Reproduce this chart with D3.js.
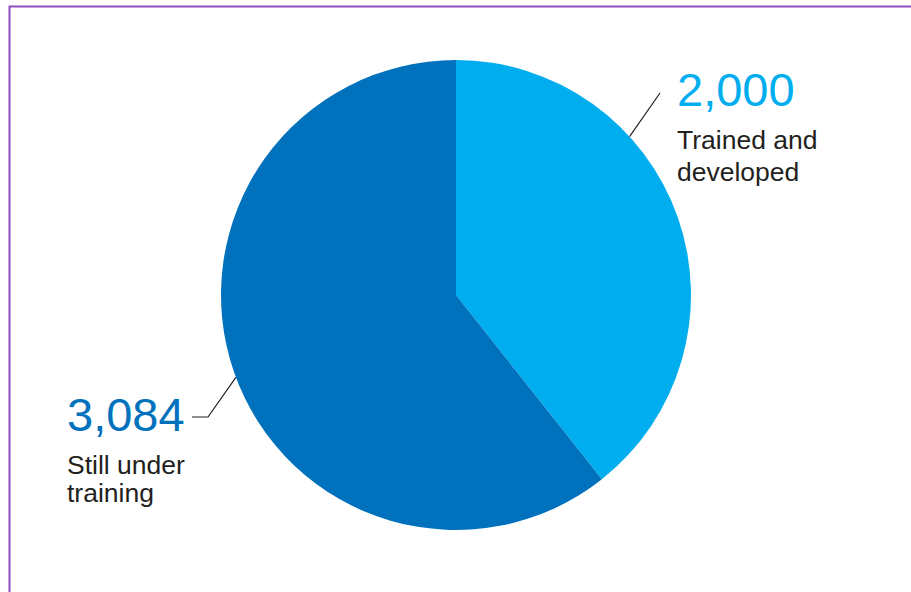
<!DOCTYPE html>
<html>
<head>
<meta charset="utf-8">
<script src="https://cdn.jsdelivr.net/npm/d3@7"></script>
<style>
  html, body { margin: 0; padding: 0; background: #fff; }
  svg { display: block; }
  text { font-family: "Liberation Sans", Arial, Helvetica, sans-serif; }
</style>
</head>
<body>
<script>
// Trainee status
const categories = ["Trained and developed", "Still under training"];
const values = [2000, 3084];
const valueLabels = ["2,000", "3,084"];
const labelLines = [["Trained and", "developed"], ["Still under", "training"]];

const W = 911, H = 592;
const cx = 456, cy = 295, R = 235;
const colors = ["#00AEEF", "#0071BC"];
const textColor = "#231F20";

const svg = d3.select("body").append("svg")
  .attr("width", W).attr("height", H);

// Frame: purple rule along the top and left edge
svg.append("path")
  .attr("d", `M9.5,${H} V6.5 H${W}`)
  .attr("fill", "none")
  .attr("stroke", "#8E4FC4")
  .attr("stroke-width", 2);

const pie = d3.pie().sort(null).value(d => d);
const arcs = pie(values);
const arc = d3.arc().innerRadius(0).outerRadius(R);

const g = svg.append("g").attr("transform", `translate(${cx},${cy})`);
g.selectAll("path.slice")
  .data(arcs)
  .join("path")
  .attr("class", "slice")
  .attr("d", arc)
  .attr("fill", (d, i) => colors[i]);

// Label layout: leader angle on the rim, leader path, text anchor
const layout = [
  { angle: 47.6, elbow: null, end: [660, 93], tx: 677, numY: 105.5, lineY: [148.5, 180.5] },
  { angle: 249.5, elbow: [208, 417], end: [192, 417], tx: 67, numY: 430.5, lineY: [473.5, 502] }
];

function rimPoint(deg) {
  const a = deg * Math.PI / 180;
  return [cx + R * Math.sin(a), cy - R * Math.cos(a)];
}

layout.forEach((L, i) => {
  const p0 = rimPoint(L.angle);
  const pts = [p0];
  if (L.elbow) pts.push(L.elbow);
  pts.push(L.end);
  svg.append("path")
    .attr("d", d3.line()(pts))
    .attr("fill", "none")
    .attr("stroke", textColor)
    .attr("stroke-width", 1.2);

  svg.append("text")
    .attr("x", L.tx).attr("y", L.numY)
    .attr("fill", colors[i])
    .attr("font-size", 47)
    .text(valueLabels[i]);

  labelLines[i].forEach((line, j) => {
    svg.append("text")
      .attr("x", L.tx).attr("y", L.lineY[j])
      .attr("fill", textColor)
      .attr("font-size", 26.5)
      .text(line);
  });
});
</script>
</body>
</html>
